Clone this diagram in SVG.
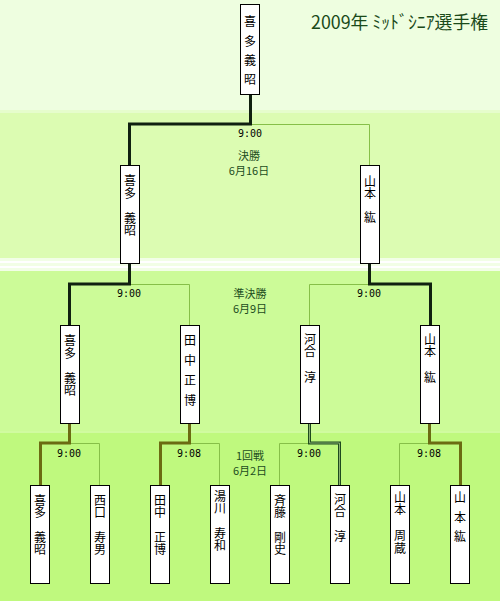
<svg xmlns="http://www.w3.org/2000/svg" width="500" height="601" viewBox="0 0 500 601">
<style>
.box{fill:#ffffff;stroke:#000000;stroke-width:1}
.nm{font-family:"Noto Sans CJK JP","Noto Sans",sans-serif;font-size:12px;fill:#000000;text-anchor:middle}
.tm{font-family:"DejaVu Sans Mono","Liberation Mono",monospace;font-size:10px;fill:#000000;text-anchor:middle}
.rd{font-family:"Noto Sans CJK JP","Noto Sans",sans-serif;font-size:11px;fill:#1d4d1d;text-anchor:middle}
.ttl{font-family:"Noto Sans CJK JP","Noto Sans",sans-serif;font-size:18px;fill:#1a4a1a}
.win{fill:none;stroke:#102010;stroke-width:3}
.win1{fill:none;stroke:#6b6b12;stroke-width:3}
.lose{fill:none;stroke:#86bf48;stroke-width:1}
.dbl{fill:none;stroke:#1e4a1e;stroke-width:3}
.dbli{fill:none;stroke:#88b070;stroke-width:1}
</style>
<g id="background">
<rect x="0" y="0" width="500" height="113" fill="#eefee0"/>
<rect x="0" y="113" width="500" height="145" fill="#dcfcb2"/>
<rect x="0" y="110" width="500" height="3" fill="#e6fdcc"/>
<rect x="0" y="258" width="500" height="13" fill="#f2fee6"/>
<rect x="0" y="261" width="500" height="2" fill="#ffffff"/>
<rect x="0" y="266" width="500" height="2" fill="#ffffff"/>
<rect x="0" y="271" width="500" height="161" fill="#ccfb98"/>
<rect x="0" y="432" width="500" height="169" fill="#bff97e"/>
<rect x="0" y="431" width="500" height="2" fill="#d0fba0"/>
</g>
<text class="ttl" x="311" y="29" textLength="177" lengthAdjust="spacingAndGlyphs">2009年 ﾐｯﾄﾞｼﾆｱ選手権</text>
<g id="connectors">
<path class="lose" d="M250.5,124.5 H369.5 V165"/>
<path class="win" d="M250.5,94 V124 H129.5 V165"/>
<path class="lose" d="M130.5,284.5 H189.5 V325"/>
<path class="win" d="M129.5,264 V284 H69.5 V325"/>
<path class="lose" d="M369.5,284.5 H309.5 V325"/>
<path class="win" d="M369.5,264 V284 H430.5 V325"/>
<path class="lose" d="M69.5,443.5 H99.5 V485"/>
<path class="win1" d="M69.5,424 V443 H40.5 V485"/>
<path class="lose" d="M189.5,443.5 H219.5 V485"/>
<path class="win1" d="M189.5,424 V443 H160.5 V485"/>
<path class="lose" d="M309.5,443.5 H279.5 V485"/>
<path class="dbl" d="M309.5,424 V443 H339.5 V485"/>
<path class="dbli" d="M309.5,424 V443 H339.5 V485"/>
<path class="lose" d="M429.5,443.5 H399.5 V485"/>
<path class="win1" d="M429.5,424 V443 H460.5 V485"/>
</g>
<g id="champion">
<rect class="box" x="240.5" y="4.5" width="19" height="90"/>
<text class="nm"><tspan x="250" y="26">喜</tspan><tspan x="250" y="46">多</tspan><tspan x="250" y="65">義</tspan><tspan x="250" y="84">昭</tspan></text>
</g>
<g id="final">
<text class="tm" x="250" y="137">9:00</text>
<text class="rd" x="249" y="160">決勝</text>
<text class="rd" x="249" y="175">6月16日</text>
</g>
<g id="f-kita">
<rect class="box" x="120.5" y="165.5" width="19" height="98"/>
<text class="nm"><tspan x="130" y="185">喜</tspan><tspan x="130" y="198">多</tspan><tspan x="130" y="223">義</tspan><tspan x="130" y="235">昭</tspan></text>
</g>
<g id="f-yamamoto">
<rect class="box" x="360.5" y="165.5" width="19" height="98"/>
<text class="nm"><tspan x="370" y="186">山</tspan><tspan x="370" y="198">本</tspan><tspan x="370" y="222">紘</tspan></text>
</g>
<g id="semifinal">
<text class="tm" x="129" y="297">9:00</text>
<text class="tm" x="369" y="297">9:00</text>
<text class="rd" x="250" y="298">準決勝</text>
<text class="rd" x="250" y="313">6月9日</text>
</g>
<g id="s-kita">
<rect class="box" x="60.5" y="325.5" width="19" height="98"/>
<text class="nm"><tspan x="70" y="345">喜</tspan><tspan x="70" y="358">多</tspan><tspan x="70" y="383">義</tspan><tspan x="70" y="395">昭</tspan></text>
</g>
<g id="s-tanaka">
<rect class="box" x="180.5" y="325.5" width="19" height="98"/>
<text class="nm"><tspan x="190" y="345">田</tspan><tspan x="190" y="365">中</tspan><tspan x="190" y="385">正</tspan><tspan x="190" y="405">博</tspan></text>
</g>
<g id="s-kawai">
<rect class="box" x="300.5" y="325.5" width="19" height="98"/>
<text class="nm"><tspan x="310" y="344">河</tspan><tspan x="310" y="356">合</tspan><tspan x="310" y="382">淳</tspan></text>
</g>
<g id="s-yamamoto">
<rect class="box" x="420.5" y="325.5" width="19" height="98"/>
<text class="nm"><tspan x="430" y="344">山</tspan><tspan x="430" y="356">本</tspan><tspan x="430" y="382">紘</tspan></text>
</g>
<g id="round1">
<text class="tm" x="69" y="457">9:00</text>
<text class="tm" x="189" y="457">9:08</text>
<text class="tm" x="309" y="457">9:00</text>
<text class="tm" x="429" y="457">9:08</text>
<text class="rd" x="250" y="460">1回戦</text>
<text class="rd" x="250" y="475">6月2日</text>
</g>
<g id="r-kita">
<rect class="box" x="30.5" y="485.5" width="19" height="98"/>
<text class="nm"><tspan x="40" y="505">喜</tspan><tspan x="40" y="517">多</tspan><tspan x="40" y="542">義</tspan><tspan x="40" y="554">昭</tspan></text>
</g>
<g id="r-nishiguchi">
<rect class="box" x="90.5" y="485.5" width="19" height="98"/>
<text class="nm"><tspan x="100" y="505">西</tspan><tspan x="100" y="517">口</tspan><tspan x="100" y="542">寿</tspan><tspan x="100" y="554">男</tspan></text>
</g>
<g id="r-tanaka">
<rect class="box" x="150.5" y="485.5" width="19" height="98"/>
<text class="nm"><tspan x="160" y="505">田</tspan><tspan x="160" y="517">中</tspan><tspan x="160" y="542">正</tspan><tspan x="160" y="554">博</tspan></text>
</g>
<g id="r-yukawa">
<rect class="box" x="210.5" y="485.5" width="19" height="98"/>
<text class="nm"><tspan x="220" y="501">湯</tspan><tspan x="220" y="513">川</tspan><tspan x="220" y="538">寿</tspan><tspan x="220" y="550">和</tspan></text>
</g>
<g id="r-saito">
<rect class="box" x="270.5" y="485.5" width="19" height="98"/>
<text class="nm"><tspan x="280" y="505">斉</tspan><tspan x="280" y="517">藤</tspan><tspan x="280" y="542">剛</tspan><tspan x="280" y="554">史</tspan></text>
</g>
<g id="r-kawai">
<rect class="box" x="330.5" y="485.5" width="19" height="98"/>
<text class="nm"><tspan x="340" y="504">河</tspan><tspan x="340" y="516">合</tspan><tspan x="340" y="541">淳</tspan></text>
</g>
<g id="r-yamamoto-s">
<rect class="box" x="390.5" y="485.5" width="19" height="98"/>
<text class="nm"><tspan x="400" y="502">山</tspan><tspan x="400" y="514">本</tspan><tspan x="400" y="540">周</tspan><tspan x="400" y="553">蔵</tspan></text>
</g>
<g id="r-yamamoto">
<rect class="box" x="450.5" y="485.5" width="19" height="98"/>
<text class="nm"><tspan x="460" y="502">山</tspan><tspan x="460" y="522">本</tspan><tspan x="460" y="541">紘</tspan></text>
</g>
</svg>
